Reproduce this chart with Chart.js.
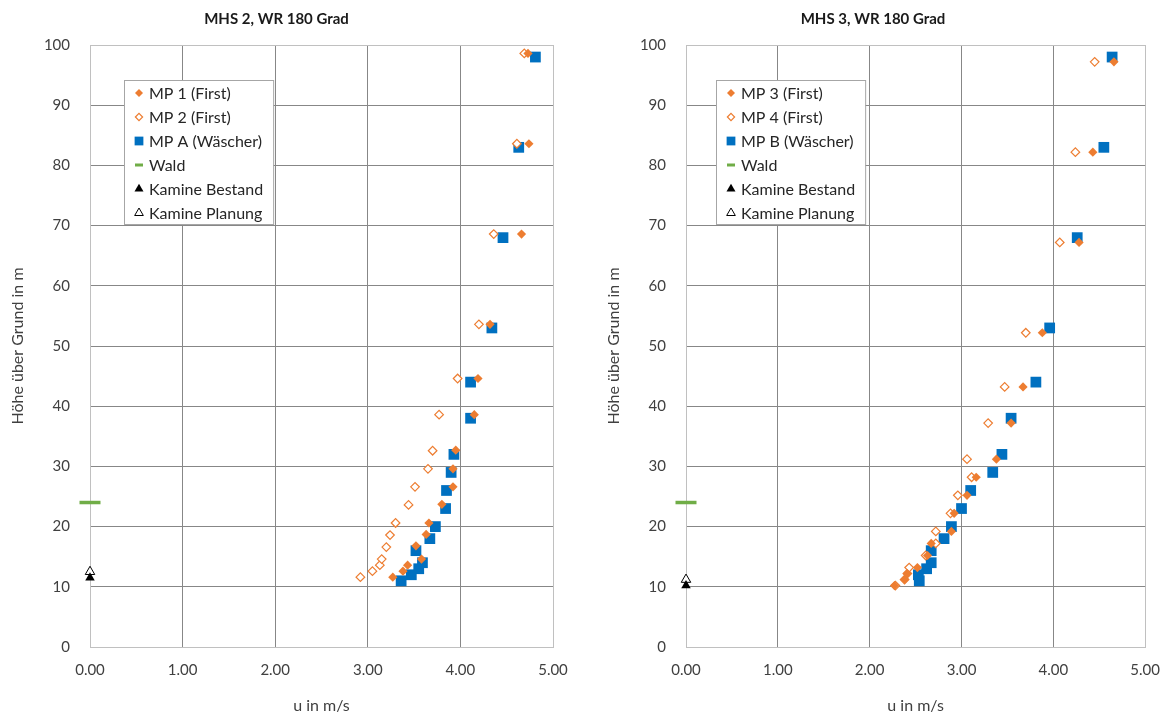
<!DOCTYPE html>
<html>
<head>
<meta charset="utf-8">
<script src="https://cdn.jsdelivr.net/npm/chart.js@4.4.1/dist/chart.umd.min.js"></script>
<style>
  body { margin: 0; background: #fff; }
  #wrap { display: flex; width: 1174px; height: 717px; }
  .box { position: relative; width: 587px; height: 717px; }
</style>
</head>
<body>
<div id="wrap">
  <div class="box"><canvas id="leftChart"></canvas></div>
  <div class="box"><canvas id="rightChart"></canvas></div>
</div>
<script>
// ---- MHS 2 (left) ----
const mp1H = [11.6, 12.6, 13.6, 14.6, 16.8, 18.7, 20.6, 23.7, 26.6, 29.6, 32.7, 38.6, 44.6, 53.6, 68.6, 83.6, 98.6];
const mp1U = [3.27, 3.38, 3.43, 3.58, 3.52, 3.63, 3.66, 3.80, 3.92, 3.92, 3.95, 4.15, 4.19, 4.32, 4.66, 4.74, 4.73];
const mp2H = [11.6, 12.6, 13.6, 14.6, 16.6, 18.6, 20.6, 23.6, 26.6, 29.6, 32.6, 38.6, 44.6, 53.6, 68.6, 83.6, 98.6];
const mp2U = [2.92, 3.05, 3.13, 3.15, 3.20, 3.24, 3.30, 3.44, 3.51, 3.65, 3.70, 3.77, 3.97, 4.20, 4.36, 4.61, 4.69];
const mpAH = [11, 12, 13, 14, 16, 18, 20, 23, 26, 29, 32, 38, 44, 53, 68, 83, 98];
const mpAU = [3.36, 3.47, 3.55, 3.59, 3.52, 3.67, 3.73, 3.84, 3.85, 3.90, 3.93, 4.11, 4.11, 4.34, 4.46, 4.63, 4.81];
const waldLeft = [24];
const bestandLeft = [11.5];
const planungLeft = [12.5];

// ---- MHS 3 (right) ----
const mp3H = [10.2, 11.2, 12.2, 13.2, 15.2, 17.2, 19.2, 22.2, 25.2, 28.2, 31.2, 37.2, 43.2, 52.2, 67.2, 82.2, 97.2];
const mp3U = [2.27, 2.38, 2.41, 2.52, 2.63, 2.67, 2.89, 2.92, 3.06, 3.16, 3.38, 3.54, 3.67, 3.88, 4.28, 4.43, 4.66];
const mp4H = [10.2, 11.2, 12.2, 13.2, 15.2, 17.2, 19.2, 22.2, 25.2, 28.2, 31.2, 37.2, 43.2, 52.2, 67.2, 82.2, 97.2];
const mp4U = [2.28, 2.38, 2.41, 2.43, 2.61, 2.72, 2.72, 2.88, 2.96, 3.11, 3.06, 3.29, 3.47, 3.70, 4.07, 4.24, 4.45];
const mpBH = [11, 12, 13, 14, 16, 18, 20, 23, 26, 29, 32, 38, 44, 53, 68, 83, 98];
const mpBU = [2.54, 2.53, 2.62, 2.67, 2.67, 2.81, 2.89, 3.00, 3.10, 3.34, 3.44, 3.54, 3.81, 3.96, 4.26, 4.55, 4.64];
const waldRight = [24];
const bestandRight = [10.2];
const planungRight = [11.2];

const uTicks = ["0.00", "1.00", "2.00", "3.00", "4.00", "5.00"];
const hTicks = [0, 10, 20, 30, 40, 50, 60, 70, 80, 90, 100];

const orange = "#ED7D31";
const blue = "#0070C0";
const green = "#70AD47";
const font = "Lato";

const pts = (u, h) => u.map((v, i) => ({ x: v, y: h[i] }));

const firstFilled = (label, u, h) => ({
	label, data: pts(u, h),
	pointStyle: "rectRot", pointRadius: 4.6, pointBorderWidth: 0,
	backgroundColor: orange, borderColor: orange, legendRadius: 4
});
const firstOpen = (label, u, h) => ({
	label, data: pts(u, h),
	pointStyle: "rectRot", pointRadius: 4.3, pointBorderWidth: 1.2,
	backgroundColor: "#fff", borderColor: orange, legendRadius: 3.6
});
const washer = (label, u, h) => ({
	label, data: pts(u, h),
	pointStyle: "rect", pointRadius: 7.6, pointBorderWidth: 0,
	backgroundColor: blue, borderColor: blue, legendRadius: 6.2
});
const wald = (h) => ({
	label: "Wald", data: pts([0], h),
	pointStyle: "line", pointRadius: 10.5, pointBorderWidth: 3.5,
	backgroundColor: green, borderColor: green, legendRadius: 4, legendBorder: 3
});
const bestand = (h) => ({
	label: "Kamine Bestand", data: pts([0], h),
	pointStyle: "triangle", pointRadius: 5.5, pointBorderWidth: 0,
	backgroundColor: "#000", borderColor: "#000", legendRadius: 5.2
});
const planung = (h) => ({
	label: "Kamine Planung", data: pts([0], h),
	pointStyle: "triangle", pointRadius: 5.5, pointBorderWidth: 1,
	backgroundColor: "#fff", borderColor: "#000", legendRadius: 5
});

// legend box drawn inside the plot area, like the original
const boxLegend = {
	id: "boxLegend",
	afterDatasetsDraw(chart, args, opts) {
		const ctx = chart.ctx;
		const area = chart.chartArea;
		const sets = chart.data.datasets;
		ctx.save();
		ctx.font = "16px " + font;
		let textW = 0;
		sets.forEach(ds => { textW = Math.max(textW, ctx.measureText(ds.label).width); });
		const left = area.left + opts.dx;
		const top = area.top + 35;
		const w = 25 + textW + 10;
		const rowH = 24;
		const h = 13 * 2 + rowH * (sets.length - 1) - 2;
		ctx.fillStyle = "#fff";
		ctx.fillRect(left, top, w, h);
		ctx.strokeStyle = "#a6a6a6";
		ctx.lineWidth = 1;
		ctx.strokeRect(left + 0.5, top + 0.5, w, h);
		sets.forEach((ds, i) => {
			const y = top + 13 + i * rowH;
			ctx.fillStyle = ds.backgroundColor;
			ctx.strokeStyle = ds.borderColor;
			ctx.lineWidth = ds.legendBorder || ds.pointBorderWidth;
			Chart.helpers.drawPoint(ctx, {
				pointStyle: ds.pointStyle,
				radius: ds.legendRadius,
				rotation: 0,
				borderWidth: ds.legendBorder || ds.pointBorderWidth
			}, left + 15, y);
			ctx.fillStyle = "#262626";
			ctx.textBaseline = "middle";
			ctx.textAlign = "left";
			ctx.fillText(ds.label, left + 25, y + 1);
		});
		ctx.restore();
	}
};

const gridColor = (max) => (c) => {
	if (!c.tick) return "#878787";
	return (c.tick.value === 0 || c.tick.value === max) ? "#c0c0c0" : "#878787";
};

const makeChart = (canvasId, title, datasets, padLeft, padRight, legendDx) => {
	return new Chart(document.getElementById(canvasId), {
		type: "scatter",
		data: { datasets: datasets.map(ds => Object.assign({ clip: false, showLine: false }, ds)) },
		options: {
			responsive: true,
			maintainAspectRatio: false,
			animation: false,
			layout: { padding: { left: padLeft, right: padRight, top: 0, bottom: 0 } },
			plugins: {
				legend: { display: false },
				tooltip: { enabled: false },
				title: {
					display: true, text: title, color: "#1a1a1a",
					font: { family: font, size: 15, weight: "bold" },
					padding: { top: 10, bottom: 17 }
				},
				boxLegend: { dx: legendDx }
			},
			scales: {
				x: {
					type: "linear", min: 0, max: 5,
					afterFit: s => { s.height = 70; },
					ticks: {
						stepSize: 1, padding: 14, color: "#404040",
						font: { family: font, size: 15 },
						callback: v => uTicks[v]
					},
					grid: { color: gridColor(5), drawTicks: false, lineWidth: 1 },
					border: { color: "#c0c0c0" },
					title: {
						display: true, text: "u in m/s", color: "#404040",
						font: { family: font, size: 16 },
						padding: { top: 0, bottom: 2 }
					}
				},
				y: {
					type: "linear", min: 0, max: 100,
					afterFit: s => { s.width = 90; },
					ticks: {
						stepSize: 10, padding: 20, color: "#404040",
						font: { family: font, size: 15 },
						callback: v => hTicks.includes(v) ? String(v) : ""
					},
					grid: { color: gridColor(100), drawTicks: false, lineWidth: 1 },
					border: { color: "#c0c0c0" },
					title: {
						display: true, text: "Höhe über Grund in m", color: "#404040",
						font: { family: font, size: 16 },
						padding: { top: 8, bottom: 0 }
					}
				}
			}
		},
		plugins: [boxLegend]
	});
};

makeChart("leftChart", "MHS 2, WR 180 Grad", [
	firstFilled("MP 1 (First)", mp1U, mp1H),
	firstOpen("MP 2 (First)", mp2U, mp2H),
	washer("MP A (Wäscher)", mpAU, mpAH),
	wald(waldLeft),
	bestand(bestandLeft),
	planung(planungLeft)
], 0, 34, 34);

makeChart("rightChart", "MHS 3, WR 180 Grad", [
	firstFilled("MP 3 (First)", mp3U, mp3H),
	firstOpen("MP 4 (First)", mp4U, mp4H),
	washer("MP B (Wäscher)", mpBU, mpBH),
	wald(waldRight),
	bestand(bestandRight),
	planung(planungRight)
], 9, 24, 30);
</script>
</body>
</html>
